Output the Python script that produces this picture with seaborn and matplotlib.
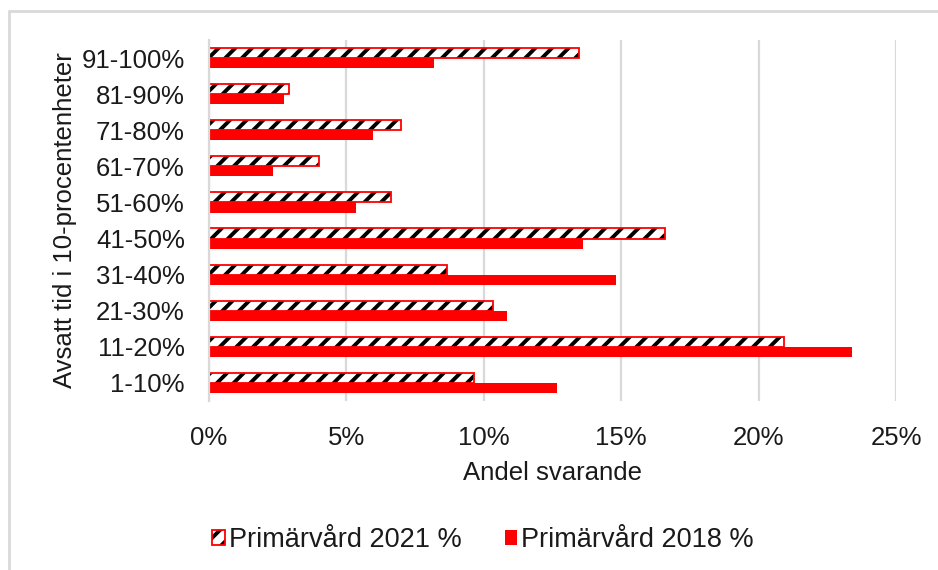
import matplotlib
matplotlib.use("Agg")
import matplotlib.pyplot as plt
import seaborn as sns
import pandas as pd
from matplotlib.patches import Patch, Rectangle
from matplotlib.lines import Line2D
from matplotlib.ticker import FuncFormatter

categories = ["91-100%", "81-90%", "71-80%", "61-70%", "51-60%",
              "41-50%", "31-40%", "21-30%", "11-20%", "1-10%"]
values_2021 = [13.46, 2.93, 6.98, 4.02, 6.62, 16.58, 8.67, 10.34, 20.92, 9.64]
values_2018 = [8.19, 2.76, 5.99, 2.33, 5.36, 13.62, 14.81, 10.86, 23.39, 12.68]
series = ["Primärvård 2021 %", "Primärvård 2018 %"]
x_ticks = [0, 5, 10, 15, 20, 25]

df = pd.DataFrame({
    "kategori": categories * 2,
    "serie": [series[0]] * len(categories) + [series[1]] * len(categories),
    "andel": values_2021 + values_2018,
})

sns.set_theme(style="white")
plt.rcParams["font.family"] = ["Liberation Sans", "DejaVu Sans"]
plt.rcParams["hatch.linewidth"] = 2.8
plt.rcParams["hatch.color"] = "black"

RED = "#ff0000"
GRID = "#d9d9d9"
TXT = "#1a1a1a"
FS = 18.5

fig = plt.figure(figsize=(9.38, 5.70), dpi=100)
ax = fig.add_axes([208.5 / 938, 1 - 401 / 570, (896.3 - 208.5) / 938, (401 - 40) / 570])

sns.barplot(data=df, y="kategori", x="andel", hue="serie", order=categories,
            hue_order=series, palette=[RED, RED], width=0.56, orient="h",
            ax=ax, legend=False, saturation=1)

# Style 2021 series: white fill, black hatch, red outline
for bar in ax.containers[0]:
    bar.set_facecolor("white")
    bar.set_edgecolor("black")
    bar.set_linewidth(0)
    bar.set_hatch("//")
    outline = Rectangle((bar.get_x(), bar.get_y()), bar.get_width(), bar.get_height(),
                        fill=False, edgecolor=RED, linewidth=1.3, zorder=bar.get_zorder() + 0.1)
    ax.add_patch(outline)
for bar in ax.containers[1]:
    bar.set_edgecolor("none")

ax.set_xlim(0, 25)
ax.set_xticks(x_ticks)
ax.xaxis.set_major_formatter(FuncFormatter(lambda v, p: f"{v:.0f}%"))
ax.grid(axis="x", color=GRID, linewidth=1.6)
ax.set_axisbelow(True)
for s in ["top", "right", "bottom"]:
    ax.spines[s].set_visible(False)
ax.spines["left"].set_color(GRID)
ax.spines["left"].set_linewidth(1.6)
ax.tick_params(axis="both", length=0, labelsize=FS, colors=TXT)
ax.tick_params(axis="x", pad=18)
ax.tick_params(axis="y", pad=17)
ax.set_xlabel("Andel svarande", fontsize=FS, color=TXT, labelpad=8)
ax.set_ylabel("Avsatt tid i 10-procentenheter", fontsize=FS, color=TXT, labelpad=3)

h2021 = (Patch(facecolor="white", edgecolor="black", hatch="//", linewidth=0),
         Patch(facecolor="none", edgecolor=RED, linewidth=1.3))
h2018 = Patch(facecolor=RED, edgecolor="none")
fig.legend([h2021, h2018], series, loc="center", bbox_to_anchor=(483 / 938, 1 - 540 / 570),
           ncol=2, frameon=False, fontsize=19.5, handlelength=0.45, handleheight=0.45,
           handletextpad=0.15, columnspacing=1.6, labelcolor=TXT)

# outer chart frame (cropped at right and bottom)
fig.add_artist(Line2D([9 / 938, 1.0], [1 - 11 / 570, 1 - 11 / 570], color=GRID, linewidth=2,
                      transform=fig.transFigure))
fig.add_artist(Line2D([9 / 938, 9 / 938], [0.0, 1 - 11 / 570], color=GRID, linewidth=2,
                      transform=fig.transFigure))

fig.savefig("out.png", dpi=100, facecolor="white")
